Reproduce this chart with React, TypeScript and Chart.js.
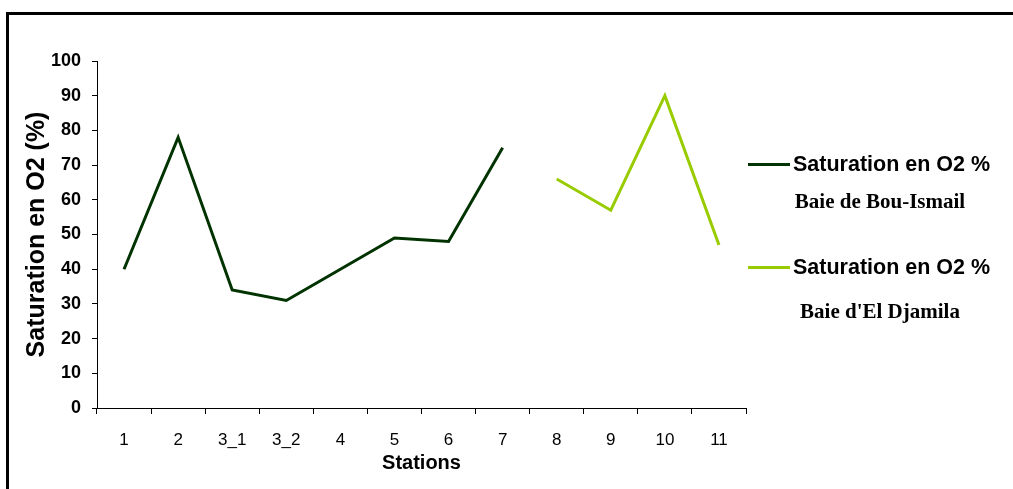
import React, { useEffect, useRef } from "react";
import { Chart, registerables } from "chart.js";

Chart.register(...registerables);

const stations = ["1", "2", "3_1", "3_2", "4", "5", "6", "7", "8", "9", "10", "11"];
const bouIsmail = [40, 78, 34, 31, 40, 49, 48, 75, null, null, null, null];
const elDjamila = [null, null, null, null, null, null, null, null, 66, 57, 90, 47];
const seriesName = "Saturation en O2 %";
const bayNames = ["Baie de Bou-Ismail", "Baie d'El Djamila"];
const colors = ["#003300", "#99CC00"];
const yTitle = "Saturation en O2 (%)";
const xTitle = "Stations";

const SANS = "'Liberation Sans', Arial, sans-serif";
const SERIF = "'Liberation Serif', 'Times New Roman', serif";

const framePlugin = {
  id: "frame",
  beforeDraw(chart: any) {
    const ctx = chart.ctx;
    ctx.save();
    ctx.strokeStyle = "#000";
    ctx.lineWidth = 3;
    ctx.strokeRect(7.5, 13.5, chart.width + 50, chart.height + 50);
    ctx.restore();
  },
};

const legendPlugin = {
  id: "customLegend",
  afterDraw(chart: any) {
    const ctx = chart.ctx;
    const { right } = chart.chartArea;
    const entries = [
      { y: 164, sub: 203 },
      { y: 267, sub: 313 },
    ];
    ctx.save();
    chart.data.datasets.forEach((ds: any, i: number) => {
      const e = entries[i];
      ctx.strokeStyle = ds.borderColor;
      ctx.lineWidth = 3;
      ctx.beginPath();
      ctx.moveTo(right + 2, e.y + 0.5);
      ctx.lineTo(right + 44, e.y + 0.5);
      ctx.stroke();
      ctx.fillStyle = "#000";
      ctx.textBaseline = "middle";
      ctx.textAlign = "left";
      ctx.font = `bold 21.5px ${SANS}`;
      ctx.fillText(seriesName, right + 47, e.y + 1);
      ctx.textAlign = "center";
      ctx.font = `bold 21px ${SERIF}`;
      ctx.fillText(bayNames[i], right + 134, e.sub);
    });
    ctx.restore();
  },
};

export default function App() {
  const ref = useRef<HTMLCanvasElement>(null);
  useEffect(() => {
    document.body.style.margin = "0";
    const chart = new Chart(ref.current!, {
      type: "line",
      data: {
        labels: stations,
        datasets: [
          {
            label: `${seriesName} ${bayNames[0]}`,
            data: bouIsmail,
            borderColor: colors[0],
            backgroundColor: colors[0],
            borderWidth: 3,
            pointRadius: 0,
            tension: 0,
            spanGaps: false,
          },
          {
            label: `${seriesName} ${bayNames[1]}`,
            data: elDjamila,
            borderColor: colors[1],
            backgroundColor: colors[1],
            borderWidth: 3,
            pointRadius: 0,
            tension: 0,
            spanGaps: false,
          },
        ],
      },
      options: {
        responsive: false,
        animation: false,
        layout: { padding: { left: 18, top: 61, right: 267, bottom: 14 } },
        plugins: { legend: { display: false }, tooltip: { enabled: false } },
        scales: {
          x: {
            offset: true,
            afterFit(scale: any) {
              scale.height = 67;
            },
            grid: {
              offset: true,
              drawOnChartArea: false,
              drawTicks: true,
              tickLength: 6,
              color: "#000",
            },
            border: { display: true, color: "#000", width: 1 },
            ticks: {
              color: "#000",
              padding: 16,
              maxRotation: 0,
              autoSkip: false,
              font: { family: SANS, size: 17 },
            },
            title: {
              display: true,
              text: xTitle,
              color: "#000",
              padding: { top: 0, bottom: 0 },
              font: { family: SANS, size: 20, weight: "bold" },
            },
          },
          y: {
            min: 0,
            max: 100,
            afterFit(scale: any) {
              scale.width = 79;
            },
            grid: {
              drawOnChartArea: false,
              drawTicks: true,
              tickLength: 5,
              color: "#000",
            },
            border: { display: true, color: "#000", width: 1 },
            ticks: {
              stepSize: 10,
              color: "#000",
              padding: 11,
              font: { family: SANS, size: 18, weight: "bold" },
            },
            title: {
              display: true,
              text: yTitle,
              color: "#000",
              padding: { top: 4, bottom: 0 },
              font: { family: SANS, size: 25, weight: "bold" },
            },
          },
        },
      },
      plugins: [framePlugin, legendPlugin],
    });
    return () => chart.destroy();
  }, []);
  return (
    <div style={{ width: 1013, height: 489, overflow: "hidden", background: "#fff" }}>
      <canvas ref={ref} width={1013} height={489} style={{ display: "block" }} />
    </div>
  );
}
